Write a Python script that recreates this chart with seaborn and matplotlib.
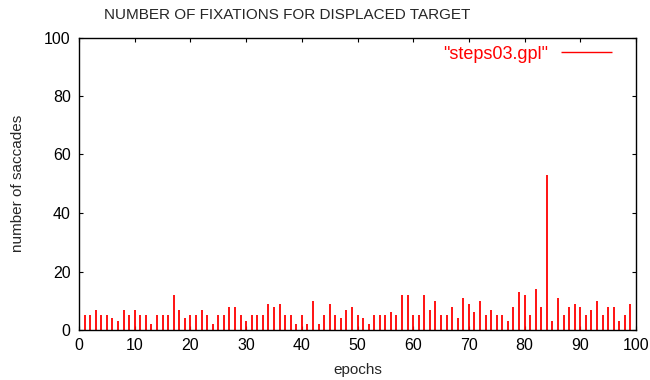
import matplotlib
matplotlib.use("Agg")
import matplotlib.pyplot as plt
import seaborn as sns
import numpy as np

# Saccade counts per training epoch
epochs = list(range(0, 100))
saccades = [
    2, 5, 5, 7, 5, 5, 4, 3, 7, 5,
    7, 5, 5, 2, 5, 5, 5, 12, 7, 4,
    5, 5, 7, 5, 2, 5, 5, 8, 8, 5,
    3, 5, 5, 5, 9, 8, 9, 5, 5, 2,
    5, 2, 10, 2, 5, 9, 5, 4, 7, 8,
    5, 4, 2, 5, 5, 5, 6, 5, 12, 12,
    5, 5, 12, 7, 10, 5, 5, 8, 4, 11,
    9, 6, 10, 5, 7, 5, 5, 3, 8, 13,
    12, 5, 14, 8, 53, 3, 11, 5, 8, 9,
    8, 5, 7, 10, 5, 8, 8, 3, 5, 9,
]
series_label = '"steps03.gpl"'
title = "NUMBER OF FIXATIONS FOR DISPLACED TARGET"
x_label = "epochs"
y_label = "number of saccades"
x_ticks = list(range(0, 101, 10))
y_ticks = list(range(0, 101, 20))

sns.set_style("ticks")
plt.rcParams["font.family"] = ["Liberation Sans", "DejaVu Sans"]
plt.rcParams["font.size"] = 10

fig = plt.figure(figsize=(6.5, 3.8), dpi=100)
ax = fig.add_axes([79 / 650, 1 - 330 / 380, (636 - 79) / 650, (330 - 37.5) / 380])

ax.vlines(epochs, 0, saccades, colors="#ff0000", linewidth=1.3, label=series_label)

ax.set_xlim(0, 100)
ax.set_ylim(0, 100)
ax.set_xticks(x_ticks)
ax.set_yticks(y_ticks)
ax.tick_params(direction="in", length=3, width=0.8, top=True, right=True,
               labelsize=11.5, colors="black", pad=6)
for s in ax.spines.values():
    s.set_visible(True)
    s.set_color("black")
    s.set_linewidth(1.0)

ax.set_xlabel(x_label, fontsize=11, labelpad=7)
ax.set_ylabel(y_label, fontsize=11, labelpad=14)
fig.text(287 / 650, 1 - 15 / 380, title, ha="center", va="center", fontsize=11)

leg = ax.legend(loc="upper right", frameon=False, markerfirst=False,
                handlelength=2.8, handletextpad=0.7, fontsize=13,
                bbox_to_anchor=(0.979, 1.015), borderaxespad=0.3)
for t in leg.get_texts():
    t.set_color("#ff0000")
for h in leg.legend_handles:
    h.set_linewidth(1.0)

fig.savefig("out.png", dpi=100)
